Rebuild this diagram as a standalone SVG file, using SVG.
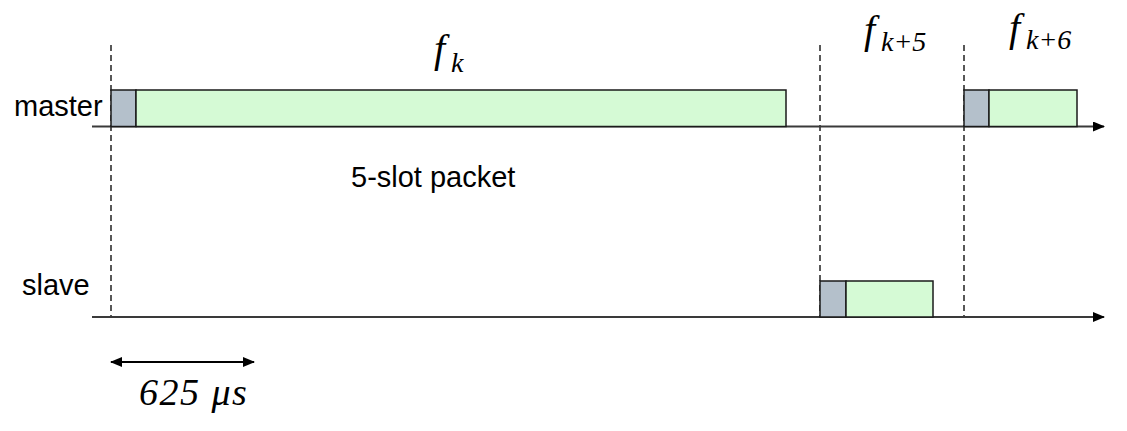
<svg xmlns="http://www.w3.org/2000/svg" width="1127" height="431" viewBox="0 0 1127 431">
<style>
.lbl{font-family:"Liberation Sans",Arial,sans-serif;font-size:29px;fill:#000}
.hdr{fill:#b4c0cb;stroke:#1a1a1a;stroke-width:1.5}
.body{fill:#d5fad5;stroke:#1a1a1a;stroke-width:1.5}
.axis{stroke:#3a3a3a;stroke-width:2;fill:none}
.dash{stroke:#222;stroke-width:1.5;stroke-dasharray:6,4;fill:none}
</style>
<defs>
<marker id="ah" markerWidth="12" markerHeight="10" refX="11" refY="5" orient="auto" markerUnits="userSpaceOnUse">
<path d="M0,0 L12,5 L0,10 Z" fill="#000"/>
</marker>
<marker id="ahs" markerWidth="12" markerHeight="10" refX="1" refY="5" orient="auto" markerUnits="userSpaceOnUse">
<path d="M12,0 L0,5 L12,10 Z" fill="#000"/>
</marker>
</defs>
<g id="connectors">
<line class="dash" x1="111" y1="45" x2="111" y2="318"/>
<line class="dash" x1="820" y1="45" x2="820" y2="318"/>
<line class="dash" x1="964" y1="45" x2="964" y2="318"/>
<line class="axis" x1="92" y1="126.5" x2="1104" y2="126.5" marker-end="url(#ah)"/>
<line class="axis" x1="92" y1="317" x2="1104" y2="317" marker-end="url(#ah)"/>
<line stroke="#000" stroke-width="2" x1="111" y1="362" x2="254" y2="362" marker-start="url(#ahs)" marker-end="url(#ah)"/>
</g>
<g id="master-label"><text class="lbl" x="14" y="116">master</text></g>
<g id="slave-label"><text class="lbl" x="22" y="295">slave</text></g>
<g id="packet-label"><text class="lbl" x="351" y="187">5-slot packet</text></g>
<g id="master-packet-k">
<rect class="hdr" x="111" y="90" width="25" height="36.5"/>
<rect class="body" x="136" y="90" width="650" height="36.5"/>
</g>
<g id="slave-packet-k5">
<rect class="hdr" x="820" y="281" width="26" height="36"/>
<rect class="body" x="846" y="281" width="87" height="36"/>
</g>
<g id="master-packet-k6">
<rect class="hdr" x="964" y="90" width="25" height="36.5"/>
<rect class="body" x="989" y="90" width="88" height="36.5"/>
</g>
<g font-family="Liberation Serif" font-style="italic" fill="#000">
<g id="freq-k"><text x="434" y="62" font-size="40">f</text><text x="451" y="72" font-size="28">k</text></g>
<g id="freq-k5"><text x="864" y="43" font-size="40">f</text><text x="881" y="51" font-size="28">k+5</text></g>
<g id="freq-k6"><text x="1009" y="41" font-size="40">f</text><text x="1026" y="49" font-size="28">k+6</text></g>
<g id="slot-duration"><text x="139" y="405" font-size="38" letter-spacing="1.5">625 μs</text></g>
</g>
</svg>
